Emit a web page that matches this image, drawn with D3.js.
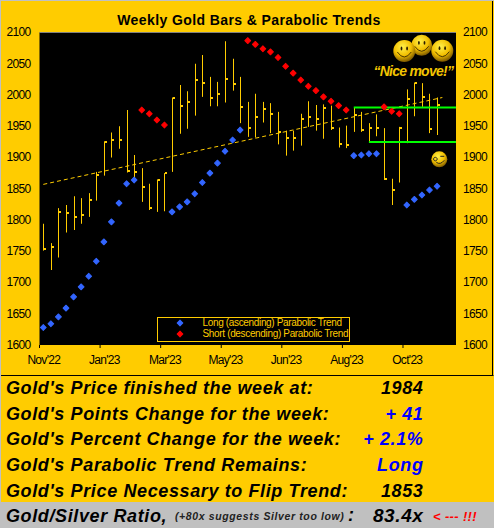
<!DOCTYPE html>
<html><head><meta charset="utf-8">
<script src="https://cdnjs.cloudflare.com/ajax/libs/d3/7.8.5/d3.min.js"></script>
<style>html,body{margin:0;padding:0;background:#ffcc00;overflow:hidden}svg{display:block}</style>
</head><body><svg id="c" width="494" height="528"></svg>
<script>
const weeks = d3.range(55);
const highs = [1794,1763,1819,1824,1838,1835,1843,1877,1926,1940,1950,1976,1904,1883,1858,1865,1875,1996,2016,2006,2050,2064,2029,2021,2086,2058,2029,1989,2002,1989,1987,1973,1943,1943,1970,1990,1984,1985,1983,1948,1951,1980,1973,1955,1969,1947,1866,1949,2009,2020,2019,2002,1996];
const lows = [1751,1720,1740,1780,1784,1794,1805,1831,1871,1900,1914,1876,1861,1829,1816,1813,1814,1877,1938,1946,1967,1997,1982,1982,1988,2007,1955,1933,1932,1956,1939,1921,1903,1911,1919,1949,1943,1930,1944,1916,1915,1941,1941,1925,1934,1864,1824,1860,1923,1966,1981,1939,1936];
const closes = [1754,1757,1813,1811,1805,1808,1832,1872,1925,1928,1928,1878,1877,1853,1819,1864,1875,1996,1983,1988,2024,2020,1996,2001,2026,2017,1981,1948,1965,1977,1970,1940,1932,1932,1961,1965,1961,1980,1948,1921,1920,1968,1944,1947,1947,1866,1848,1948,1994,2019,1997,1945,1984];
const longWeeks = [0,1,2,3,4,5,6,7,8,9,10,11,12,17,18,19,20,21,22,23,24,25,26,41,42,43,44,48,49,50,51,52];
const longValues = [1628,1634,1645,1659,1677,1693,1710,1734,1765,1797,1827,1858,1864,1813,1821,1829,1842,1860,1875,1891,1910,1928,1944,1903,1904,1906,1906,1824,1833,1840,1848,1854];
const shortWeeks = [13,14,15,16,27,28,29,30,31,32,33,34,35,36,37,38,39,40,45,46,47];
const shortValues = [1976,1970,1960,1952,2087,2081,2074,2069,2060,2046,2035,2024,2014,2007,1997,1990,1983,1976,1981,1974,1970];
const trendWeeks = [0,52.7];
const trendValues = [1857,1996];
const supportLines = [{from:41,value:1980},{from:43,value:1925}];
const yTicks = [1600,1650,1700,1750,1800,1850,1900,1950,2000,2050,2100];
const xTickWeeks = [0,8,16,24,32,40,48];
const xTickLabels = ["Nov'22","Jan'23","Mar'23","May'23","Jun'23","Aug'23","Oct'23"];
const rowLabels = ["Gold's Price finished the week at:","Gold's Points Change for the week:","Gold's Percent Change for the week:","Gold's Parabolic Trend Remains:","Gold's Price Necessary to Flip Trend:"];
const rowValues = ["1984","+ 41","+ 2.1%","Long","1853"];
const rowColors = ["#000","#0000ff","#0000ff","#0000ff","#000"];
const legendLabels = ["Long (ascending) Parabolic Trend","Short (descending) Parabolic Trend"];
const legendColors = ["#3366ff","#ff0000"];

const svg = d3.select("#c");
const L=39.5,R=456,T=32.5,B=345;
const bg="#ffcc00", gold="#ffcc00", sans="Arial, 'Liberation Sans', sans-serif";
const x = d3.scaleBand().domain(weeks).range([L,R]).paddingInner(0).paddingOuter(0);
const cx = d => x(0)+x.step()*(d+0.5);
const y = d3.scaleLinear().domain([1600,2100]).range([B,T]);

svg.append("rect").attr("width",494).attr("height",528).attr("fill",bg);
svg.append("rect").attr("width",494).attr("height",1).attr("fill","#c0c0c0");
svg.append("rect").attr("width",1).attr("height",528).attr("fill","#c0c0c0");
svg.append("rect").attr("x",L).attr("y",T).attr("width",R-L).attr("height",B-T).attr("fill","#000");
svg.append("line").attr("x1",L).attr("x2",R).attr("y1",T).attr("y2",T).attr("stroke","#808080");
svg.append("text").attr("x",249).attr("y",25).attr("text-anchor","middle").attr("font-family",sans).attr("font-weight","bold").attr("font-size",14).attr("fill","#000").style("letter-spacing","0.4px").text("Weekly Gold Bars & Parabolic Trends");

const tick = (g)=>g.selectAll("text").attr("font-family",sans).attr("font-size",12).attr("fill","#000").style("letter-spacing","-0.7px");
const yl = d3.axisLeft(y).tickValues(yTicks).tickFormat(d3.format("d")).tickSize(0).tickPadding(9);
const gl = svg.append("g").attr("transform",`translate(${L},-0.5)`).call(yl); gl.select(".domain").remove(); tick(gl);
const yr = d3.axisRight(y).tickValues(yTicks).tickFormat(d3.format("d")).tickSize(0).tickPadding(7);
const gr = svg.append("g").attr("transform",`translate(${R},-0.5)`).call(yr); gr.select(".domain").remove(); tick(gr);
const xa = d3.axisBottom(d3.scaleLinear().domain([0,54]).range([cx(0),cx(54)])).tickValues(xTickWeeks).tickSize(0).tickPadding(10).tickFormat((d,i)=>xTickLabels[i]);
const gx = svg.append("g").attr("transform",`translate(0,${B})`).call(xa); gx.select(".domain").remove(); tick(gx);
svg.append("g").selectAll("line").data(xTickWeeks).join("line")
  .attr("x1",d=>x(d)).attr("x2",d=>x(d)).attr("y1",B).attr("y2",B+3).attr("stroke","#000");

svg.append("path").attr("d",d3.line().x(d=>cx(d[0])).y(d=>y(d[1]))(trendWeeks.map((w,i)=>[w,trendValues[i]])))
  .attr("fill","none").attr("stroke",gold).attr("stroke-width",1).attr("stroke-dasharray","4,3");

const bars = svg.append("g").selectAll("g").data(highs.map((h,i)=>({i,h,l:lows[i],c:closes[i]}))).join("g");
bars.append("line").attr("x1",d=>Math.round(cx(d.i))+.5).attr("x2",d=>Math.round(cx(d.i))+.5).attr("y1",d=>y(d.h)).attr("y2",d=>y(d.l)).attr("stroke",gold);
bars.append("rect").attr("x",d=>Math.round(cx(d.i))+1).attr("width",2).attr("y",d=>Math.round(y(d.c))-1).attr("height",2).attr("fill",gold);

svg.append("g").selectAll("line").data(supportLines).join("line")
  .attr("x1",d=>cx(d.from)).attr("x2",R).attr("y1",d=>y(d.value)).attr("y2",d=>y(d.value)).attr("stroke","#00ff00").attr("stroke-width",2);

const diamond = d3.symbol().type(d3.symbolSquare).size(17);
const dots=(ws,vs,col)=>svg.append("g").selectAll("path").data(ws.map((w,i)=>[w,vs[i]])).join("path")
  .attr("d",diamond).attr("transform",d=>`translate(${cx(d[0])},${y(d[1])}) rotate(45)`).attr("fill",col).attr("stroke",col).attr("stroke-width",1).attr("stroke-linejoin","round");
dots(longWeeks,longValues,legendColors[0]);
dots(shortWeeks,shortValues,legendColors[1]);

svg.append("rect").attr("x",157.5).attr("y",317.5).attr("width",192).attr("height",24).attr("fill","#000").attr("stroke",gold);
legendLabels.forEach((t,i)=>{
  const ly=323+i*11;
  svg.append("path").attr("d",diamond()).attr("transform",`translate(180,${ly}) rotate(45)`).attr("fill",legendColors[i]).attr("stroke",legendColors[i]).attr("stroke-linejoin","round");
  svg.append("text").attr("x",202.5).attr("y",ly+2.7).attr("font-family",sans).attr("font-size",10).attr("fill",gold).style("letter-spacing","-0.34px").text(t);
});

const defs=svg.append("defs");
const rg=defs.append("radialGradient").attr("id","sm").attr("cx","42%").attr("cy","32%").attr("r","72%");
rg.append("stop").attr("offset","0%").attr("stop-color","#fff04a");
rg.append("stop").attr("offset","55%").attr("stop-color","#f2bf00");
rg.append("stop").attr("offset","100%").attr("stop-color","#6e4c00");
[{x:421.7,y:45.3,r:10.5},{x:404.3,y:51,r:11},{x:442.3,y:50.7,r:11}].forEach(s=>{
  const g=svg.append("g").attr("transform",`translate(${s.x},${s.y})`);
  g.append("circle").attr("r",s.r).attr("fill","url(#sm)");
  g.append("ellipse").attr("cx",-2.8).attr("cy",-2.5).attr("rx",.9).attr("ry",1.9).attr("fill","#2a1c00");
  g.append("ellipse").attr("cx",2.8).attr("cy",-2.5).attr("rx",.9).attr("ry",1.9).attr("fill","#2a1c00");
  g.append("path").attr("d","M-7,1Q0,11 7,1").attr("fill","none").attr("stroke","#4a3600").attr("stroke-width",1);
});
svg.append("text").attr("x",413.3).attr("y",76).attr("text-anchor","middle").attr("font-family",sans).attr("font-weight","bold").attr("font-style","italic").attr("font-size",14).attr("fill","#f2c400").style("letter-spacing","-0.75px").text("\u201CNice move!\u201D");
const wk=svg.append("g").attr("transform","translate(439.3,159.3)");
wk.append("circle").attr("r",8).attr("fill","url(#sm)");
wk.append("path").attr("d","M-4,-2a1.8,1.8 0 1,0 .1,0M1,-3L5,-3M-3,3Q1,6 5,1").attr("fill","none").attr("stroke","#222").attr("stroke-width",1);

svg.append("line").attr("x1",1).attr("x2",493.5).attr("y1",375.5).attr("y2",375.5).attr("stroke","#000");
svg.append("line").attr("x1",492.5).attr("x2",492.5).attr("y1",1).attr("y2",376).attr("stroke","#000");
svg.append("rect").attr("x",1).attr("y",502).attr("width",493).attr("height",26).attr("fill","#c0c0c0");
const big=(t,xx,yy,anchor,col,fs,ls)=>svg.append("text").attr("x",xx).attr("y",yy).attr("text-anchor",anchor||"start").attr("font-family",sans).attr("font-style","italic").attr("font-weight","bold").attr("font-size",fs||18).attr("fill",col||"#000").style("letter-spacing",(ls==null?0.62:ls)+"px").text(t);
rowLabels.forEach((t,i)=>{
  const yy=394+i*25.65;
  big(t,6,yy);
  big(rowValues[i],423.5,yy,"end",rowColors[i]);
});
big("Gold/Silver Ratio,",6,521.5);
big("(+80x suggests Silver too low)",175,520,"start","#222",10.5,0.62);
big(":",348,521);
big("83.4x",423.5,521.5,"end","#000",19,0.6);
svg.append("text").attr("x",433).attr("y",520.5).attr("font-family",sans).attr("font-style","italic").attr("font-weight","bold").attr("font-size",13).attr("fill","#ff0000").style("letter-spacing","0.35px").text("< --- !!!");
</script></body></html>
